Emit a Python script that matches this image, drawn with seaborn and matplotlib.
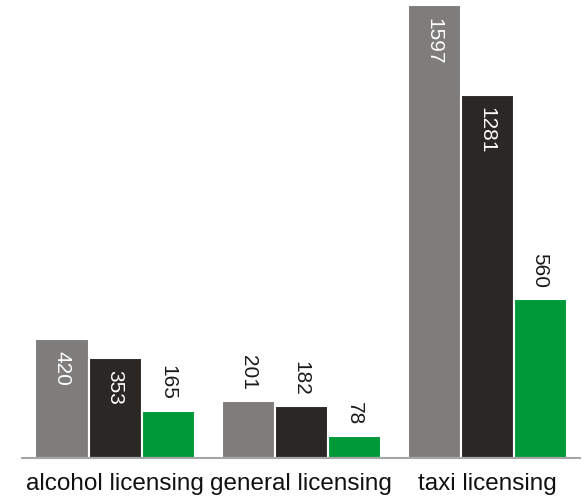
import matplotlib.pyplot as plt
import pandas as pd
import seaborn as sns

categories = ['alcohol licensing', 'general licensing', 'taxi licensing']
series_names = ['s1', 's2', 's3']
s1_values = [420, 201, 1597]
s2_values = [353, 182, 1281]
s3_values = [165, 78, 560]
colors = ['#7e7d7b', '#2b2724', '#00993a']

rows = []
for name, vals in zip(series_names, [s1_values, s2_values, s3_values]):
    for cat, v in zip(categories, vals):
        rows.append({'category': cat, 'series': name, 'value': v})
data = pd.DataFrame(rows)

sns.set_style('white')
plt.rcParams['font.family'] = ['Liberation Sans', 'DejaVu Sans']

fig = plt.figure(figsize=(5.85, 5.01), dpi=100)
ax = fig.add_axes([0.0376, 0.0858, 0.954, 0.904])

sns.barplot(data=data, x='category', y='value', hue='series', order=categories,
            hue_order=series_names, palette=colors, width=0.855, saturation=1,
            edgecolor='white', linewidth=1.5, legend=False, ax=ax)

ax.set_xlim(-0.5, 2.5)
ax.set_ylim(0, 1597)
ax.set_xlabel('')
ax.set_ylabel('')
ax.set_yticks([])
ax.tick_params(axis='x', length=0, labelsize=17.5, pad=11, labelcolor='#111111')
for side in ['top', 'left', 'right']:
    ax.spines[side].set_visible(False)
ax.spines['bottom'].set_color('#a6a6a6')
ax.spines['bottom'].set_linewidth(1.5)

# value labels, rotated: inside the tall grey/dark bars, above the rest
for i, container in enumerate(ax.containers):
    for bar in container:
        h = bar.get_height()
        x = bar.get_x() + bar.get_width() / 2
        if h > 300 and i < 2:
            ax.annotate(f'{h:.0f}', (x, h), xytext=(0, -9), textcoords='offset points',
                        rotation=270, ha='center', va='top', color='white', fontsize=15)
        else:
            ax.annotate(f'{h:.0f}', (x, h), xytext=(0, 8), textcoords='offset points',
                        rotation=270, ha='center', va='bottom', color='#1a1a1a', fontsize=15)

plt.savefig('out.png', dpi=100)
